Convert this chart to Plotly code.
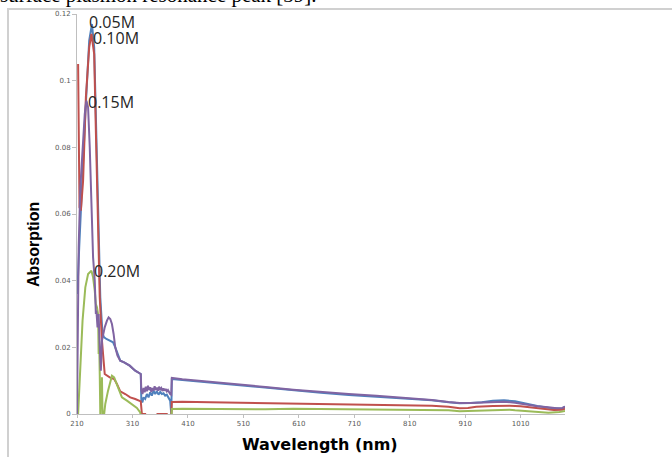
import plotly.graph_objects as go

# ---------------- data ----------------
blue_x = [210, 211, 214, 218, 225, 232, 237, 241, 245, 249, 252, 256, 259, 263, 270, 275, 279, 283, 288, 295, 305, 315, 325,
          326, 328, 330, 333, 336, 339, 342, 345, 348, 351, 354, 357, 360, 363, 366, 369, 372, 375, 378, 380,
          381, 400, 450, 500, 550, 600, 650, 700, 750, 800, 850, 880, 900, 920, 940, 960, 980, 1000, 1020, 1040, 1060, 1075, 1085, 1090]
blue_y = [0.036, 0.038, 0.05, 0.065, 0.09, 0.112, 0.117, 0.11, 0.085, 0.055, 0.035, 0.024, 0.023, 0.0225, 0.022, 0.0215, 0.02, 0.018, 0.016, 0.0155, 0.0145, 0.013, 0.012,
          0.004, 0.0035, 0.005, 0.0045, 0.006, 0.005, 0.0065, 0.0055, 0.007, 0.006, 0.0068, 0.0058, 0.0066, 0.006, 0.0062, 0.0055, 0.0058, 0.005, 0.004, 0.0,
          0.0105, 0.0102, 0.0094, 0.0087, 0.0078, 0.007, 0.0064, 0.0057, 0.0052, 0.0047, 0.0041, 0.0035, 0.0032, 0.0033, 0.0035, 0.004, 0.0041, 0.0038, 0.003, 0.0024, 0.0019, 0.0017, 0.0016, 0.0022]

red_x = [212, 214.5, 217, 221, 226, 232, 236, 241, 244, 248, 251, 255, 258, 260, 269, 277, 282, 288, 297, 306, 315, 324, 325,
         327, 333, 334, 350, 355, 372, 375, 380,
         381, 400, 450, 500, 550, 600, 650, 700, 750, 800, 850, 880, 900, 915, 930, 960, 990, 1010, 1030, 1050, 1070, 1085, 1090]
red_y = [0.105, 0.062, 0.061, 0.07, 0.095, 0.11, 0.114, 0.108, 0.085, 0.055, 0.035, 0.022, 0.014, 0.012, 0.011, 0.0105, 0.009, 0.0068, 0.006, 0.005, 0.0045, 0.004, 0.0038,
         0.0, 0.0, -0.001, -0.001, 0.0, 0.0, -0.001, -0.001,
         0.0036, 0.0037, 0.0035, 0.0034, 0.0032, 0.0031, 0.003, 0.0029, 0.0028, 0.0027, 0.0025, 0.0022, 0.0017, 0.0018, 0.0022, 0.0024, 0.0025, 0.0023, 0.0019, 0.0014, 0.0012, 0.0013, 0.0016]

green_x = [212, 215, 220, 225, 230, 236, 239, 242, 244, 246, 248, 249, 250, 251, 252, 253, 254, 255, 256, 259, 261, 266, 273, 277, 282, 288, 291, 300, 309, 318, 324, 325,
           326, 380,
           381, 400, 450, 500, 550, 600, 650, 700, 750, 800, 850, 880, 900, 920, 960, 990, 1000, 1020, 1040, 1060, 1080, 1090]
green_y = [0.0, 0.012, 0.028, 0.038, 0.042, 0.043, 0.041, 0.037, 0.033, 0.032, 0.03, 0.018, 0.022, 0.012, 0.0, 0.008, 0.004, 0.011, 0.0, 0.0, 0.003, 0.007, 0.0115, 0.011, 0.009, 0.0065, 0.005, 0.004, 0.003, 0.0018, 0.0005, -0.001,
           -0.002, -0.002,
           0.0015, 0.0016, 0.0015, 0.0015, 0.0014, 0.0016, 0.0015, 0.0013, 0.0014, 0.0013, 0.0012, 0.0011, 0.0008, 0.0009, 0.0011, 0.0013, 0.0011, 0.0009, 0.0006, 0.0004, 0.0006, 0.0009]

purple_x = [210, 211, 213, 216, 220, 224, 227, 230, 233, 236, 239, 242, 244, 245, 247, 249, 251, 253, 255, 257, 260, 264, 267, 270, 273, 276, 279, 283, 288, 295, 305, 315, 325,
            326, 328, 330, 332, 334, 336, 338, 340, 342, 344, 346, 348, 350, 352, 354, 356, 358, 360, 362, 364, 366, 368, 370, 372, 374, 376, 378, 380,
            381, 400, 450, 500, 550, 600, 650, 700, 750, 800, 850, 880, 900, 920, 940, 960, 980, 1000, 1020, 1040, 1060, 1075, 1085, 1090]
purple_y = [0.0, 0.03, 0.05, 0.068, 0.08, 0.09, 0.094, 0.092, 0.08, 0.06, 0.047, 0.04, 0.03, 0.031, 0.026, 0.03, 0.02, 0.013, 0.022, 0.024, 0.026, 0.028, 0.029, 0.0285, 0.027, 0.024, 0.02, 0.0175, 0.016, 0.0155, 0.0145, 0.013, 0.012,
            0.007, 0.006, 0.0078, 0.0065, 0.0082, 0.0068, 0.0085, 0.0072, 0.008, 0.0066, 0.0078, 0.007, 0.0083, 0.0072, 0.0079, 0.007, 0.0082, 0.0074, 0.0078, 0.0069, 0.0077, 0.007, 0.0075, 0.0068, 0.0072, 0.0065, 0.006, 0.0058,
            0.0108, 0.0104, 0.0097, 0.009, 0.0081, 0.0073, 0.0066, 0.006, 0.0055, 0.0049, 0.0042, 0.0036, 0.0033, 0.0033, 0.0034, 0.0036, 0.0037, 0.0034, 0.0028, 0.0023, 0.002, 0.0017, 0.0018, 0.0022]

x_tick_vals = [210, 310, 410, 510, 610, 710, 810, 910, 1010]
y_tick_vals = [0, 0.02, 0.04, 0.06, 0.08, 0.1, 0.12]
y_tick_text = ["0", "0.02", "0.04", "0.06", "0.08", "0.1", "0.12"]

series_names = ["0.05M", "0.10M", "0.20M", "0.15M"]
series_colors = ["#4F81BD", "#C0504D", "#9BBB59", "#8064A2"]

# ---------------- figure ----------------
fig = go.Figure()
for xs, ys, name, col in zip([blue_x, red_x, green_x, purple_x],
                             [blue_y, red_y, green_y, purple_y],
                             series_names, series_colors):
    fig.add_trace(go.Scatter(x=xs, y=ys, mode="lines", name=name,
                             line=dict(color=col, width=2), showlegend=False))

W, H = 672, 457
L, R, T, B = 77, 107, 14, 43
pw, ph = W - L - R, H - T - B

def px(xp):
    return (xp - L) / pw

def py(yp):
    return (H - B - yp) / ph

fig.update_layout(
    width=W, height=H,
    margin=dict(l=L, r=R, t=T, b=B, autoexpand=False),
    paper_bgcolor="white", plot_bgcolor="white",
    xaxis=dict(range=[210, 1090], tickvals=x_tick_vals, showgrid=False, zeroline=False,
               showline=True, linecolor="#BFBFBF", linewidth=1,
               ticks="outside", ticklen=3, tickcolor="#BFBFBF",
               tickfont=dict(family="DejaVu Sans", size=7, color="#595959")),
    yaxis=dict(range=[0, 0.12], tickvals=y_tick_vals, ticktext=y_tick_text, showgrid=False, zeroline=False,
               showline=True, linecolor="#BFBFBF", linewidth=1,
               ticks="outside", ticklen=4, tickcolor="#BFBFBF",
               tickfont=dict(family="DejaVu Sans", size=7, color="#595959")),
)

# outer frame of the embedded chart
fig.add_shape(type="rect", xref="paper", yref="paper",
              x0=px(8), x1=px(690), y0=py(480), y1=py(9),
              line=dict(color="#D0D0D0", width=2), fillcolor="rgba(0,0,0,0)", layer="below")

# clipped document text above the chart
fig.add_annotation(text="surface plasmon resonance peak [39].", xref="paper", yref="paper",
                   x=px(-2), y=py(9), xanchor="left", yanchor="bottom", showarrow=False,
                   font=dict(family="Liberation Serif", size=21, color="black"))

# axis titles
fig.add_annotation(text="<b>Absorption</b>", xref="paper", yref="paper",
                   x=px(33), y=py(245), xanchor="center", yanchor="middle", textangle=-90, showarrow=False,
                   font=dict(family="Liberation Sans Narrow, Liberation Sans", size=16, color="black"))
fig.add_annotation(text="<b>Wavelength (nm)</b>", xref="paper", yref="paper",
                   x=px(320), y=py(444), xanchor="center", yanchor="middle", showarrow=False,
                   font=dict(family="DejaVu Sans", size=16, color="black"))

# series labels
label_pos = [(87, 22), (91, 38), (86, 102), (92, 271)]
label_txt = ["0.05M", "0.10M", "0.15M", "0.20M"]
for (lx, ly), t in zip(label_pos, label_txt):
    fig.add_annotation(text=t, xref="paper", yref="paper", x=px(lx), y=py(ly),
                       xanchor="left", yanchor="middle", showarrow=False,
                       font=dict(family="Open Sans", size=16, color="#262626"))

fig.write_html("out.html", config={"displayModeBar": False},
               post_script="document.body.style.margin='0px';")
